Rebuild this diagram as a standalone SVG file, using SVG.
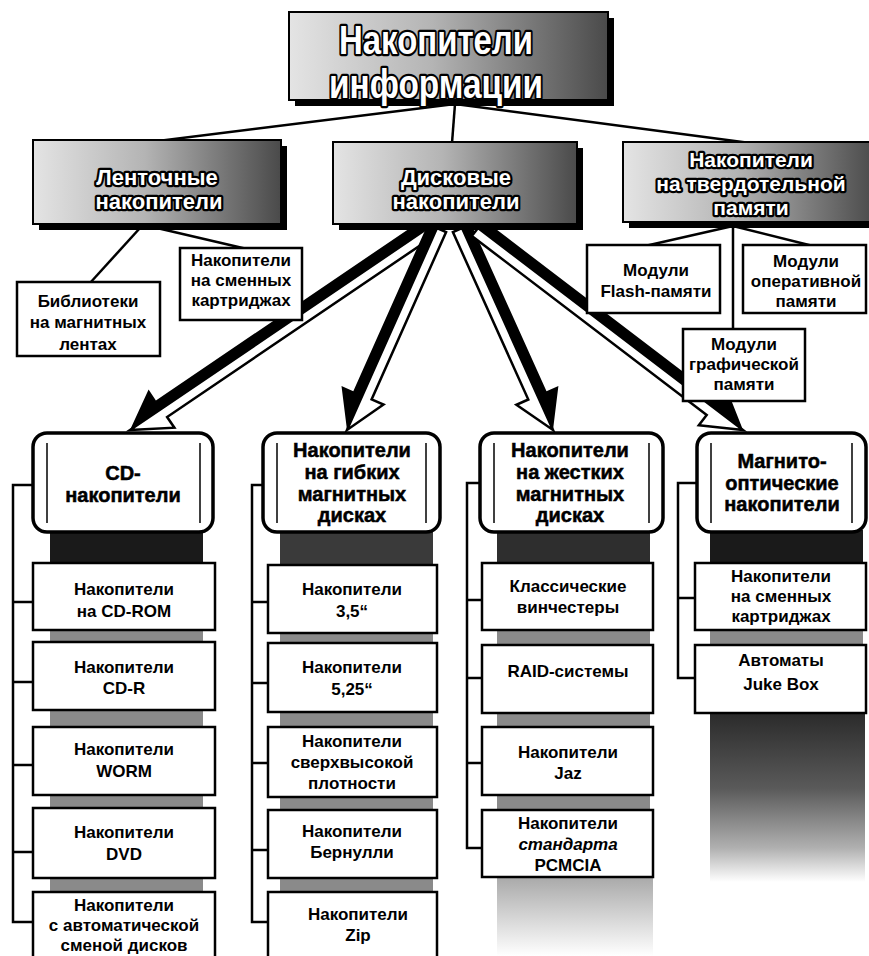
<svg xmlns="http://www.w3.org/2000/svg" width="869" height="956" viewBox="0 0 869 956">
<defs>
<linearGradient id="catg" x1="0" y1="0" x2="1" y2="0">
<stop offset="0" stop-color="#e4e4e4"/><stop offset="0.45" stop-color="#b4b4b4"/><stop offset="1" stop-color="#4a4a4a"/>
</linearGradient>
<linearGradient id="fadeL" x1="0" y1="0" x2="0" y2="1">
<stop offset="0" stop-color="#a8a8a8"/><stop offset="1" stop-color="#ffffff"/>
</linearGradient>
<linearGradient id="fadeD" x1="0" y1="0" x2="0" y2="1">
<stop offset="0" stop-color="#2a2a2a"/><stop offset="0.45" stop-color="#5a5a5a"/><stop offset="0.8" stop-color="#b0b0b0"/><stop offset="1" stop-color="#ffffff"/>
</linearGradient>
<style>
.cat{font-family:"Liberation Sans",Arial,sans-serif;font-weight:bold;fill:#fff;stroke:#000;stroke-width:4.5;paint-order:stroke;stroke-linejoin:round;text-anchor:middle}
.hd{font-family:"Liberation Sans",Arial,sans-serif;font-weight:bold;font-size:20px;fill:#000;stroke:#000;stroke-width:0.5;text-anchor:middle}
.it{font-family:"Liberation Sans",Arial,sans-serif;font-weight:bold;font-size:17px;fill:#000;text-anchor:middle}
.box{fill:#fff;stroke:#000;stroke-width:2.5}
.cbox{fill:url(#catg);stroke:#000;stroke-width:2}
.sh{fill:#000}
.hbox{fill:#fff;stroke:#000;stroke-width:3.5}
.inner{stroke:#000;stroke-width:1.5}
.ln{stroke:#000;stroke-width:2.5;fill:none}
.awb{fill:#000}
.aww{fill:#fff;stroke:#000;stroke-width:2.5;stroke-linejoin:miter}
.dark{fill:#1a1a1a}
.mid{fill:#8a8a8a}
</style>
</defs>
<rect width="869" height="956" fill="#fff"/>

<g id="connectors">
<line class="ln" x1="455" y1="104" x2="158" y2="141"/>
<line class="ln" x1="455" y1="104" x2="452" y2="143"/>
<line class="ln" x1="455" y1="104" x2="750" y2="143"/>
<line class="ln" x1="140" y1="228" x2="90" y2="283"/>
<line class="ln" x1="157" y1="228" x2="247" y2="249"/>
<line class="ln" x1="733" y1="226" x2="645" y2="246"/>
<line class="ln" x1="733" y1="226" x2="813" y2="246"/>
<line class="ln" x1="733" y1="226" x2="733" y2="329"/>
<g id="arrows">
<polygon class="awb" points="422.4,219.7 155.9,400.4 148.6,389.6 130,430 174.4,427.7 167.1,417.0 433.6,236.3"/>
<polygon class="aww" points="428,228 433.6,236.3 167.1,417.0 174.4,427.7 130,430 161.5,408.7"/>
<polygon class="awb" points="427.9,223.9 353.3,391.2 341.5,385.9 347,430 383.5,404.6 371.6,399.4 446.1,232.1"/>
<polygon class="aww" points="437,228 446.1,232.1 371.6,399.4 383.5,404.6 347,430 362.5,395.3"/>
<polygon class="awb" points="471.1,223.9 546.5,391.3 558.4,385.9 553,430 516.4,404.8 528.3,399.5 452.9,232.1"/>
<polygon class="aww" points="462,228 452.9,232.1 528.3,399.5 516.4,404.8 553,430 537.4,395.4"/>
<polygon class="awb" points="484.1,220.1 718.8,399.0 726.7,388.7 743,430 698.8,425.3 706.7,414.9 471.9,236.0"/>
<polygon class="aww" points="478,228 471.9,236.0 706.7,414.9 698.8,425.3 743,430 712.8,407.0"/>
</g>
<g id="brackets">
<path class="ln" d="M33,485 H13 V922 H33 M13,602 H33 M13,682 H33 M13,765 H33 M13,852 H33"/>
<path class="ln" d="M263,485 H252 V922 H268 M252,602 H268 M252,683 H268 M252,763 H268 M252,850 H268"/>
<path class="ln" d="M480,483 H467 V848 H482 M467,600 H482 M467,678 H482 M467,763 H482"/>
<path class="ln" d="M697,483 H678 V678 H695 M678,598 H695"/>
</g>
</g>

<g id="n-top">
<rect class="sh" x="295" y="18" width="319" height="88"/>
<rect class="cbox" x="289" y="12" width="319" height="88"/>
<text class="cat" font-size="40" x="436" y="54" textLength="194" lengthAdjust="spacingAndGlyphs">Накопители</text>
<text class="cat" font-size="40" x="436" y="98" textLength="214" lengthAdjust="spacingAndGlyphs">информации</text>
</g>

<g id="n-tape">
<rect class="sh" x="39" y="146" width="248" height="84"/>
<rect class="cbox" x="33" y="140" width="248" height="84"/>
<text class="cat" font-size="22" x="157" y="185">Ленточные</text>
<text class="cat" font-size="22" x="159" y="209">накопители</text>
</g>

<g id="n-disk">
<rect class="sh" x="339" y="148" width="244" height="82"/>
<rect class="cbox" x="333" y="142" width="244" height="82"/>
<text class="cat" font-size="22" x="456" y="185">Дисковые</text>
<text class="cat" font-size="22" x="456" y="209">накопители</text>
</g>

<g id="n-solid">
<rect class="sh" x="629" y="148" width="250" height="80"/>
<rect class="cbox" x="623" y="142" width="252" height="80"/>
<text class="cat" font-size="21" x="751" y="167">Накопители</text>
<text class="cat" font-size="21" x="751" y="191">на твердотельной</text>
<text class="cat" font-size="21" x="751" y="215">памяти</text>
</g>

<g id="n-lib">
<rect class="box" x="17" y="282" width="143" height="74"/>
<text class="it" x="88" y="307">Библиотеки</text>
<text class="it" x="88" y="328">на магнитных</text>
<text class="it" x="88" y="350">лентах</text>
</g>

<g id="n-cart">
<rect class="box" x="180" y="248" width="122" height="72"/>
<text class="it" x="241" y="266">Накопители</text>
<text class="it" x="241" y="286">на сменных</text>
<text class="it" x="241" y="306">картриджах</text>
</g>

<g id="n-flash">
<rect class="box" x="587" y="245" width="133" height="68"/>
<text class="it" x="656" y="276">Модули</text>
<text class="it" x="656" y="297">Flash-памяти</text>
</g>

<g id="n-ram">
<rect class="box" x="743" y="245" width="123" height="68"/>
<text class="it" x="806" y="267">Модули</text>
<text class="it" x="806" y="287">оперативной</text>
<text class="it" x="806" y="307">памяти</text>
</g>

<g id="n-gpu">
<rect class="box" x="683" y="329" width="122" height="72"/>
<text class="it" x="744" y="350">Модули</text>
<text class="it" x="744" y="370">графической</text>
<text class="it" x="744" y="390">памяти</text>
</g>

<g id="n-cd">
<rect class="dark" x="50" y="530" width="153" height="34"/>
<rect class="mid" x="50" y="629" width="153" height="14"/>
<rect class="mid" x="50" y="709" width="153" height="19"/>
<rect class="mid" x="50" y="794" width="153" height="15"/>
<rect class="mid" x="50" y="877" width="153" height="16"/>
<rect class="hbox" x="33" y="433" width="180" height="99" rx="14"/>
<line class="inner" x1="47" y1="443" x2="47" y2="523"/>
<line class="inner" x1="200" y1="443" x2="200" y2="523"/>
<text class="hd" x="123" y="480">CD-</text>
<text class="hd" x="123" y="502">накопители</text>
<rect class="box" x="33" y="563" width="182" height="67"/>
<text class="it" x="124" y="595">Накопители</text>
<text class="it" x="124" y="617">на CD-ROM</text>
<rect class="box" x="33" y="642" width="182" height="68"/>
<text class="it" x="124" y="673">Накопители</text>
<text class="it" x="124" y="694">CD-R</text>
<rect class="box" x="33" y="727" width="182" height="68"/>
<text class="it" x="124" y="755">Накопители</text>
<text class="it" x="124" y="777">WORM</text>
<rect class="box" x="33" y="808" width="182" height="70"/>
<text class="it" x="124" y="838">Накопители</text>
<text class="it" x="124" y="860">DVD</text>
<rect class="box" x="33" y="892" width="182" height="72"/>
<text class="it" x="124" y="911">Накопители</text>
<text class="it" x="124" y="931">с автоматической</text>
<text class="it" x="124" y="951">сменой дисков</text>
</g>

<g id="n-floppy">
<rect x="280" y="530" width="153" height="36" style="fill:#3a3a3a"/>
<rect class="mid" x="280" y="632" width="153" height="12"/>
<rect class="mid" x="280" y="711" width="153" height="17"/>
<rect class="mid" x="280" y="796" width="153" height="15"/>
<rect class="mid" x="280" y="877" width="153" height="16"/>
<rect class="hbox" x="263" y="433" width="177" height="99" rx="14"/>
<line class="inner" x1="277" y1="443" x2="277" y2="523"/>
<line class="inner" x1="426" y1="443" x2="426" y2="523"/>
<text class="hd" x="352" y="457">Накопители</text>
<text class="hd" x="352" y="479">на гибких</text>
<text class="hd" x="352" y="501">магнитных</text>
<text class="hd" x="352" y="522">дисках</text>
<rect class="box" x="268" y="565" width="169" height="68"/>
<text class="it" x="352" y="595">Накопители</text>
<text class="it" x="352" y="617">3,5“</text>
<rect class="box" x="268" y="643" width="169" height="69"/>
<text class="it" x="352" y="673">Накопители</text>
<text class="it" x="352" y="695">5,25“</text>
<rect class="box" x="268" y="727" width="169" height="70"/>
<text class="it" x="352" y="747">Накопители</text>
<text class="it" x="352" y="768">сверхвысокой</text>
<text class="it" x="352" y="789">плотности</text>
<rect class="box" x="268" y="810" width="169" height="68"/>
<text class="it" x="352" y="837">Накопители</text>
<text class="it" x="352" y="858">Бернулли</text>
<rect class="box" x="268" y="892" width="169" height="72"/>
<text class="it" x="358" y="920">Накопители</text>
<text class="it" x="358" y="941">Zip</text>
</g>

<g id="n-hdd">
<rect x="497" y="530" width="153" height="34" style="fill:#2e2e2e"/>
<rect class="mid" x="497" y="629" width="153" height="17"/>
<rect class="mid" x="497" y="712" width="153" height="16"/>
<rect class="mid" x="497" y="794" width="153" height="17"/>
<rect x="497" y="876" width="156" height="80" fill="url(#fadeL)"/>
<rect class="hbox" x="480" y="433" width="183" height="99" rx="14"/>
<line class="inner" x1="494" y1="443" x2="494" y2="523"/>
<line class="inner" x1="649" y1="443" x2="649" y2="523"/>
<text class="hd" x="570" y="457">Накопители</text>
<text class="hd" x="570" y="479">на жестких</text>
<text class="hd" x="570" y="501">магнитных</text>
<text class="hd" x="570" y="522">дисках</text>
<rect class="box" x="482" y="563" width="171" height="67"/>
<text class="it" x="568" y="592">Классические</text>
<text class="it" x="568" y="613">винчестеры</text>
<rect class="box" x="482" y="645" width="171" height="68"/>
<text class="it" x="568" y="677">RAID-системы</text>
<rect class="box" x="482" y="727" width="171" height="68"/>
<text class="it" x="568" y="758">Накопители</text>
<text class="it" x="568" y="779">Jaz</text>
<rect class="box" x="482" y="810" width="171" height="67"/>
<text class="it" x="568" y="829">Накопители</text>
<text class="it" x="568" y="850" font-style="italic">стандарта</text>
<text class="it" x="568" y="871">PCMCIA</text>
</g>

<g id="n-mo">
<rect class="dark" x="710" y="530" width="153" height="34"/>
<rect class="mid" x="710" y="629" width="153" height="17"/>
<rect x="710" y="712" width="155" height="170" fill="url(#fadeD)"/>
<rect class="hbox" x="697" y="433" width="169" height="99" rx="14"/>
<line class="inner" x1="711" y1="443" x2="711" y2="523"/>
<line class="inner" x1="852" y1="443" x2="852" y2="523"/>
<text class="hd" x="782" y="468">Магнито-</text>
<text class="hd" x="782" y="490">оптические</text>
<text class="hd" x="782" y="511">накопители</text>
<rect class="box" x="695" y="563" width="171" height="67"/>
<text class="it" x="781" y="582">Накопители</text>
<text class="it" x="781" y="602">на сменных</text>
<text class="it" x="781" y="622">картриджах</text>
<rect class="box" x="695" y="645" width="171" height="68"/>
<text class="it" x="781" y="666">Автоматы</text>
<text class="it" x="781" y="690">Juke Box</text>
</g>
</svg>
